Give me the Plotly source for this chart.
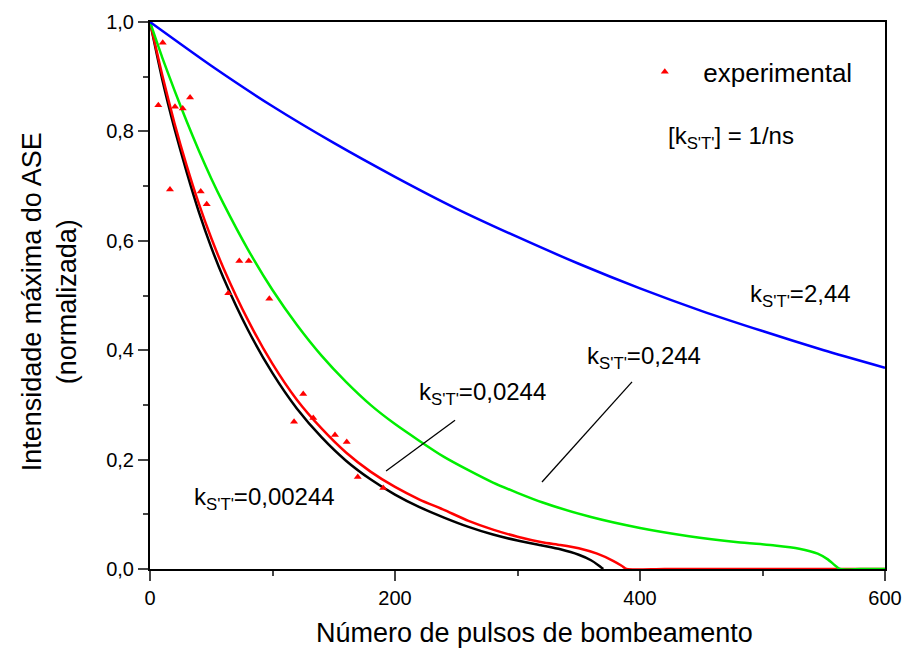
import plotly.graph_objects as go

# ---- data ----
exp_x = [6.8, 10.4, 16.3, 20.4, 26.7, 32.7, 41.4, 46.3, 63.9, 72.9, 80.6, 97.4,
         117.6, 125.1, 133.3, 151.0, 160.6, 169.6, 190.4]
exp_y = [0.848, 0.962, 0.694, 0.845, 0.842, 0.862, 0.690, 0.667, 0.504, 0.563, 0.563, 0.494,
         0.269, 0.320, 0.276, 0.245, 0.232, 0.168, 0.148]

blue_x = [0, 50, 100, 150, 200, 250, 300, 350, 400, 450, 500, 550, 600]
blue_y = [1.0, 0.920, 0.846, 0.779, 0.717, 0.659, 0.607, 0.558, 0.513, 0.472, 0.435, 0.400, 0.368]

green_x = [0, 10, 20, 30, 40, 50, 60, 80, 100, 120, 140, 160, 180, 200, 240, 280, 320,
           360, 400, 440, 480, 510, 530, 545, 553, 559, 563, 580, 600]
green_y = [1.0, 0.935, 0.875, 0.818, 0.764, 0.714, 0.668, 0.584, 0.510, 0.446, 0.390, 0.342,
           0.300, 0.265, 0.205, 0.158, 0.122, 0.095, 0.075, 0.060, 0.049, 0.043, 0.037,
           0.028, 0.018, 0.007, 0.0, 0.0, 0.0]

red_x = [0, 10, 20, 30, 40, 50, 60, 80, 100, 120, 140, 160, 180, 200, 220, 240, 260, 280,
         300, 320, 335, 350, 365, 378, 385, 389, 420, 600]
red_y = [1.0, 0.903, 0.815, 0.737, 0.667, 0.605, 0.550, 0.455, 0.375, 0.309, 0.257, 0.213,
         0.178, 0.150, 0.127, 0.108, 0.088, 0.072, 0.059, 0.049, 0.044, 0.038, 0.028, 0.015,
         0.006, 0.0, 0.0, 0.0]

black_x = [0, 10, 20, 30, 40, 50, 60, 80, 100, 120, 140, 160, 180, 200, 220, 240, 260, 280,
           300, 320, 335, 350, 360, 366, 370]
black_y = [1.0, 0.895, 0.805, 0.725, 0.652, 0.588, 0.532, 0.437, 0.358, 0.293, 0.241, 0.198,
           0.164, 0.136, 0.113, 0.094, 0.077, 0.063, 0.052, 0.043, 0.036, 0.026, 0.016,
           0.007, 0.0]

x_ticks = [0, 200, 400, 600]
y_ticks = [0.0, 0.2, 0.4, 0.6, 0.8, 1.0]

FONT = "Arial, Liberation Sans, sans-serif"

fig = go.Figure()
line_common = dict(width=2.5, shape="spline", smoothing=0.6)
fig.add_trace(go.Scatter(x=black_x, y=black_y, mode="lines",
                         line=dict(color="black", **line_common), showlegend=False))
fig.add_trace(go.Scatter(x=red_x, y=red_y, mode="lines",
                         line=dict(color="#ff0000", **line_common), showlegend=False))
fig.add_trace(go.Scatter(x=green_x, y=green_y, mode="lines",
                         line=dict(color="#00ee00", **line_common), showlegend=False))
fig.add_trace(go.Scatter(x=blue_x, y=blue_y, mode="lines",
                         line=dict(color="#0000ff", **line_common), showlegend=False))
fig.add_trace(go.Scatter(x=exp_x, y=exp_y, mode="markers", name="experimental",
                         marker=dict(symbol="triangle-up", size=7, color="#ff0000"),
                         cliponaxis=False))

ann_font = dict(family=FONT, size=24, color="black")
annotations = [
    dict(x=421, y=0.788, text="[k<sub>S'T'</sub>] = 1/ns"),
    dict(x=488, y=0.50, text="k<sub>S'T'</sub>=2,44"),
    dict(x=355, y=0.386, text="k<sub>S'T'</sub>=0,244"),
    dict(x=218, y=0.32, text="k<sub>S'T'</sub>=0,0244"),
    dict(x=34, y=0.128, text="k<sub>S'T'</sub>=0,00244"),
]
for a in annotations:
    a.update(xref="x", yref="y", xanchor="left", yanchor="middle", showarrow=False,
             font=ann_font)

# axis titles
annotations.append(dict(xref="paper", yref="paper", x=0.523, y=-0.117,
                        xanchor="center", yanchor="middle", showarrow=False,
                        text="Número de pulsos de bombeamento",
                        font=dict(family=FONT, size=27, color="black")))
annotations.append(dict(xref="paper", yref="paper", x=-0.137, y=0.488,
                        xanchor="center", yanchor="middle", showarrow=False,
                        textangle=-90,
                        text="Intensidade máxima do ASE<br>(normalizada)",
                        font=dict(family=FONT, size=27, color="black")))

shapes = [
    dict(type="line", xref="x", yref="y", x0=393.5, y0=0.342, x1=320, y1=0.159,
         line=dict(color="black", width=1.3)),
    dict(type="line", xref="x", yref="y", x0=249, y0=0.272, x1=192.7, y1=0.179,
         line=dict(color="black", width=1.3)),
]

fig.update_layout(
    width=905, height=649,
    margin=dict(l=150, r=20, t=22, b=80, autoexpand=False),
    paper_bgcolor="white", plot_bgcolor="white",
    separators=",.",
    font=dict(family=FONT, size=20, color="black"),
    annotations=annotations,
    shapes=shapes,
    showlegend=True,
    legend=dict(x=0.648, y=0.909, xanchor="left", yanchor="middle",
                bgcolor="rgba(0,0,0,0)", font=dict(family=FONT, size=26),
                itemwidth=67),
)
fig.update_xaxes(
    range=[0, 600], tickvals=x_ticks, ticks="outside", ticklen=10, tickwidth=2,
    showline=True, linewidth=2, linecolor="black", mirror=True, showgrid=False,
    zeroline=False, tickfont=dict(size=20), automargin=False,
    minor=dict(ticks="outside", ticklen=5, tickwidth=2, dtick=100, showgrid=False),
)
fig.update_yaxes(
    range=[0, 1], tickvals=y_ticks, tickformat=".1f", ticks="outside", ticklen=10,
    tickwidth=2, showline=True, linewidth=2, linecolor="black", mirror=True,
    showgrid=False, zeroline=False, tickfont=dict(size=20), automargin=False,
    minor=dict(ticks="outside", ticklen=5, tickwidth=2, dtick=0.1, showgrid=False),
)

fig.write_html("out.html",
               config={"displayModeBar": False},
               post_script="document.body.style.margin='0';document.body.style.overflow='hidden';")
